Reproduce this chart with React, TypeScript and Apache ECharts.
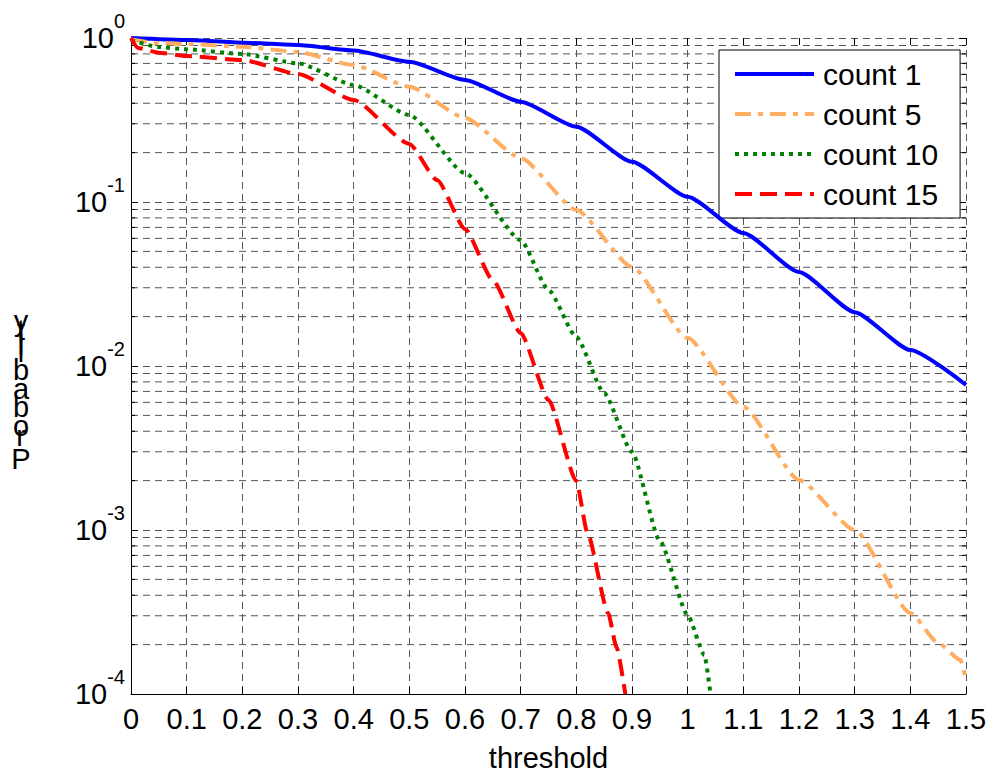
import React, { useEffect, useRef } from "react";
import * as echarts from "echarts";

const FONT = '"Liberation Sans", Arial, Helvetica, sans-serif';

// y decades and minor multipliers (for the log grid)
const yDecades = [1e-4, 1e-3, 1e-2, 1e-1];
const minorSteps = [2, 3, 4, 5, 6, 7, 8, 9];

// series: count 1
const count1X = [0, 0.1, 0.2, 0.3, 0.4, 0.5, 0.6, 0.7, 0.8, 0.9, 1.0, 1.1, 1.2, 1.3, 1.4, 1.5];
const count1P = [1.0, 0.973, 0.936, 0.906, 0.838, 0.716, 0.555, 0.409, 0.288, 0.176, 0.1076, 0.0647, 0.0374, 0.0213, 0.01253, 0.00766];

// series: count 5
const count5X = [0, 0.05, 0.1, 0.2, 0.3, 0.4, 0.5, 0.6, 0.7, 0.8, 0.9, 1.0, 1.1, 1.2, 1.3, 1.4, 1.45, 1.49, 1.5];
const count5P = [0.98, 0.93, 0.919, 0.885, 0.822, 0.684, 0.505, 0.325, 0.1855, 0.0894, 0.0402, 0.0148, 0.00565, 0.00202, 0.001, 0.000312, 0.000205, 0.000161, 0.000122];

// series: count 10
const count10X = [0, 0.05, 0.1, 0.2, 0.3, 0.4, 0.5, 0.6, 0.7, 0.75, 0.8, 0.85, 0.9, 0.95, 1.0, 1.03, 1.041];
const count10P = [0.97, 0.881, 0.853, 0.799, 0.701, 0.517, 0.339, 0.15, 0.0586, 0.0291, 0.01503, 0.00684, 0.00299, 0.000857, 0.000303, 0.000173, 0.0001];

// series: count 15
const count15X = [0, 0.0125, 0.05, 0.1, 0.2, 0.3, 0.4, 0.5, 0.55, 0.6, 0.65, 0.7, 0.75, 0.8, 0.82, 0.857, 0.872, 0.888];
const count15P = [1.0, 0.869, 0.814, 0.777, 0.734, 0.603, 0.419, 0.226, 0.136, 0.0685, 0.0334, 0.0159, 0.00621, 0.00199, 0.000959, 0.000312, 0.000194, 0.0001];

const seriesNames = ["count 1", "count 5", "count 10", "count 15"];

const Y_LABEL = "Probability";
const ADV: Record<string, number> = { P: 0.667, r: 0.333, o: 0.556, b: 0.556, a: 0.556, i: 0.222, l: 0.222, t: 0.278, y: 0.5 };

function zip(xs: number[], ys: number[]) {
  return xs.map((x, i) => [x, ys[i]]);
}

export default function App() {
  const ref = useRef<HTMLDivElement>(null);
  useEffect(() => {
    if (!ref.current) return;
    const chart = echarts.init(ref.current, undefined, { renderer: "svg" });
    const minorValues = yDecades.flatMap((d) => minorSteps.map((k) => k * d));

    // stacked y-label letters (as in the reference)
    const yLabelEls: any[] = [];
    let cum = 0;
    for (const ch of Y_LABEL.split("")) {
      const base = 467 - cum * 33;
      yLabelEls.push({
        type: "text",
        x: 21,
        y: base + 6,
        silent: true,
        style: { text: ch, fontSize: 29, fontFamily: FONT, fill: "#000", align: "center", verticalAlign: "bottom" },
      });
      cum += ADV[ch] ?? 0.5;
    }

    const GRID_COLOR = "#555";
    const gridDash = { color: GRID_COLOR, width: 1, type: [7, 5] as any };
    const lineBase = { type: "line", showSymbol: false, symbol: "none", smooth: 0.2, smoothMonotone: "x", z: 5 } as any;

    chart.setOption({
      animation: false,
      backgroundColor: "#fff",
      grid: { left: 131, right: 30, top: 38, bottom: 81, containLabel: false, outerBoundsMode: "none" },
      legend: {
        data: seriesNames,
        orient: "vertical",
        left: 719,
        top: 50,
        padding: [9, 22, 9, 14],
        itemGap: 10,
        itemWidth: 79,
        itemHeight: 30,
        backgroundColor: "#fff",
        borderColor: "#000",
        borderWidth: 1,
        borderRadius: 0,
        itemStyle: { opacity: 0 },
        lineStyle: { width: 4 },
        textStyle: { fontSize: 30, fontFamily: FONT, color: "#000", lineHeight: 30, padding: [0, 0, 0, 4] },
      },
      graphic: yLabelEls,
      xAxis: [
        {
          type: "value",
          min: 0,
          max: 1.5,
          interval: 0.1,
          name: "threshold",
          nameLocation: "middle",
          nameGap: 49,
          nameTextStyle: { fontSize: 29, fontFamily: FONT, color: "#000" },
          axisLine: { onZero: false, lineStyle: { color: "#000", width: 1 } },
          axisTick: { inside: true, length: 7, lineStyle: { color: "#000" } },
          axisLabel: {
            interval: 0,
            fontSize: 29,
            fontFamily: FONT,
            color: "#000",
            margin: 10,
            formatter: (v: number) => String(parseFloat(v.toFixed(1))),
          },
          splitLine: { show: true, lineStyle: gridDash },
        },
        {
          type: "value",
          min: 0,
          max: 1.5,
          interval: 0.1,
          position: "top",
          axisLine: { show: false },
          axisTick: { show: true, inside: true, length: 7, lineStyle: { color: "#000" } },
          axisLabel: { show: false },
          splitLine: { show: false },
        },
      ],
      yAxis: [
        {
          type: "log",
          logBase: 10,
          min: 1e-4,
          max: 1,
          axisLine: { show: true, onZero: false, lineStyle: { color: "#000", width: 1 } },
          axisTick: { show: true, inside: true, length: 7, lineStyle: { color: "#000" } },
          axisLabel: {
            margin: 6,
            formatter: (v: number) => `{b|10}{s|${Math.round(Math.log10(v))}}`,
            rich: {
              b: { fontSize: 29, fontFamily: FONT, color: "#000", lineHeight: 54 },
              s: { fontSize: 20, fontFamily: FONT, color: "#000", verticalAlign: "top" },
            },
          },
          splitLine: { show: true, lineStyle: gridDash },
        },
        {
          type: "log",
          logBase: 10,
          min: 1e-4,
          max: 1,
          position: "right",
          axisLine: { show: false, onZero: false },
          axisTick: { show: true, inside: true, length: 7, lineStyle: { color: "#000" } },
          axisLabel: { show: false },
          splitLine: { show: false },
        },
      ],
      series: [
        {
          type: "custom",
          name: "minor",
          silent: true,
          z: 1,
          clip: false,
          data: minorValues.map((v) => [0, v]),
          encode: { x: 0, y: 1 },
          renderItem: (_p: any, api: any) => {
            const v = api.value(1);
            const a = api.coord([0, v]);
            const b = api.coord([1.5, v]);
            return {
              type: "group",
              children: [
                { type: "line", shape: { x1: a[0], y1: a[1], x2: b[0], y2: b[1] }, style: { stroke: GRID_COLOR, lineWidth: 1, lineDash: [7, 5] } },
                { type: "line", shape: { x1: a[0], y1: a[1], x2: a[0] + 4, y2: a[1] }, style: { stroke: "#000", lineWidth: 1 } },
                { type: "line", shape: { x1: b[0] - 4, y1: b[1], x2: b[0], y2: b[1] }, style: { stroke: "#000", lineWidth: 1 } },
              ],
            };
          },
        },
        { ...lineBase, name: seriesNames[0], data: zip(count1X, count1P), lineStyle: { color: "#0000FF", width: 4, type: "solid" }, itemStyle: { color: "#0000FF" } },
        { ...lineBase, name: seriesNames[1], data: zip(count5X, count5P), lineStyle: { color: "#FFAD60", width: 4, type: [16, 7, 5, 7] }, itemStyle: { color: "#FFAD60" } },
        { ...lineBase, name: seriesNames[2], data: zip(count10X, count10P), lineStyle: { color: "#008000", width: 4, type: [4, 5] }, itemStyle: { color: "#008000" } },
        { ...lineBase, name: seriesNames[3], data: zip(count15X, count15P), lineStyle: { color: "#FF0000", width: 4, type: [17, 8] }, itemStyle: { color: "#FF0000" } },
      ],
    });
    return () => chart.dispose();
  }, []);
  return <div ref={ref} style={{ position: "fixed", left: 0, top: 0, width: 996, height: 775, background: "#fff" }} />;
}
